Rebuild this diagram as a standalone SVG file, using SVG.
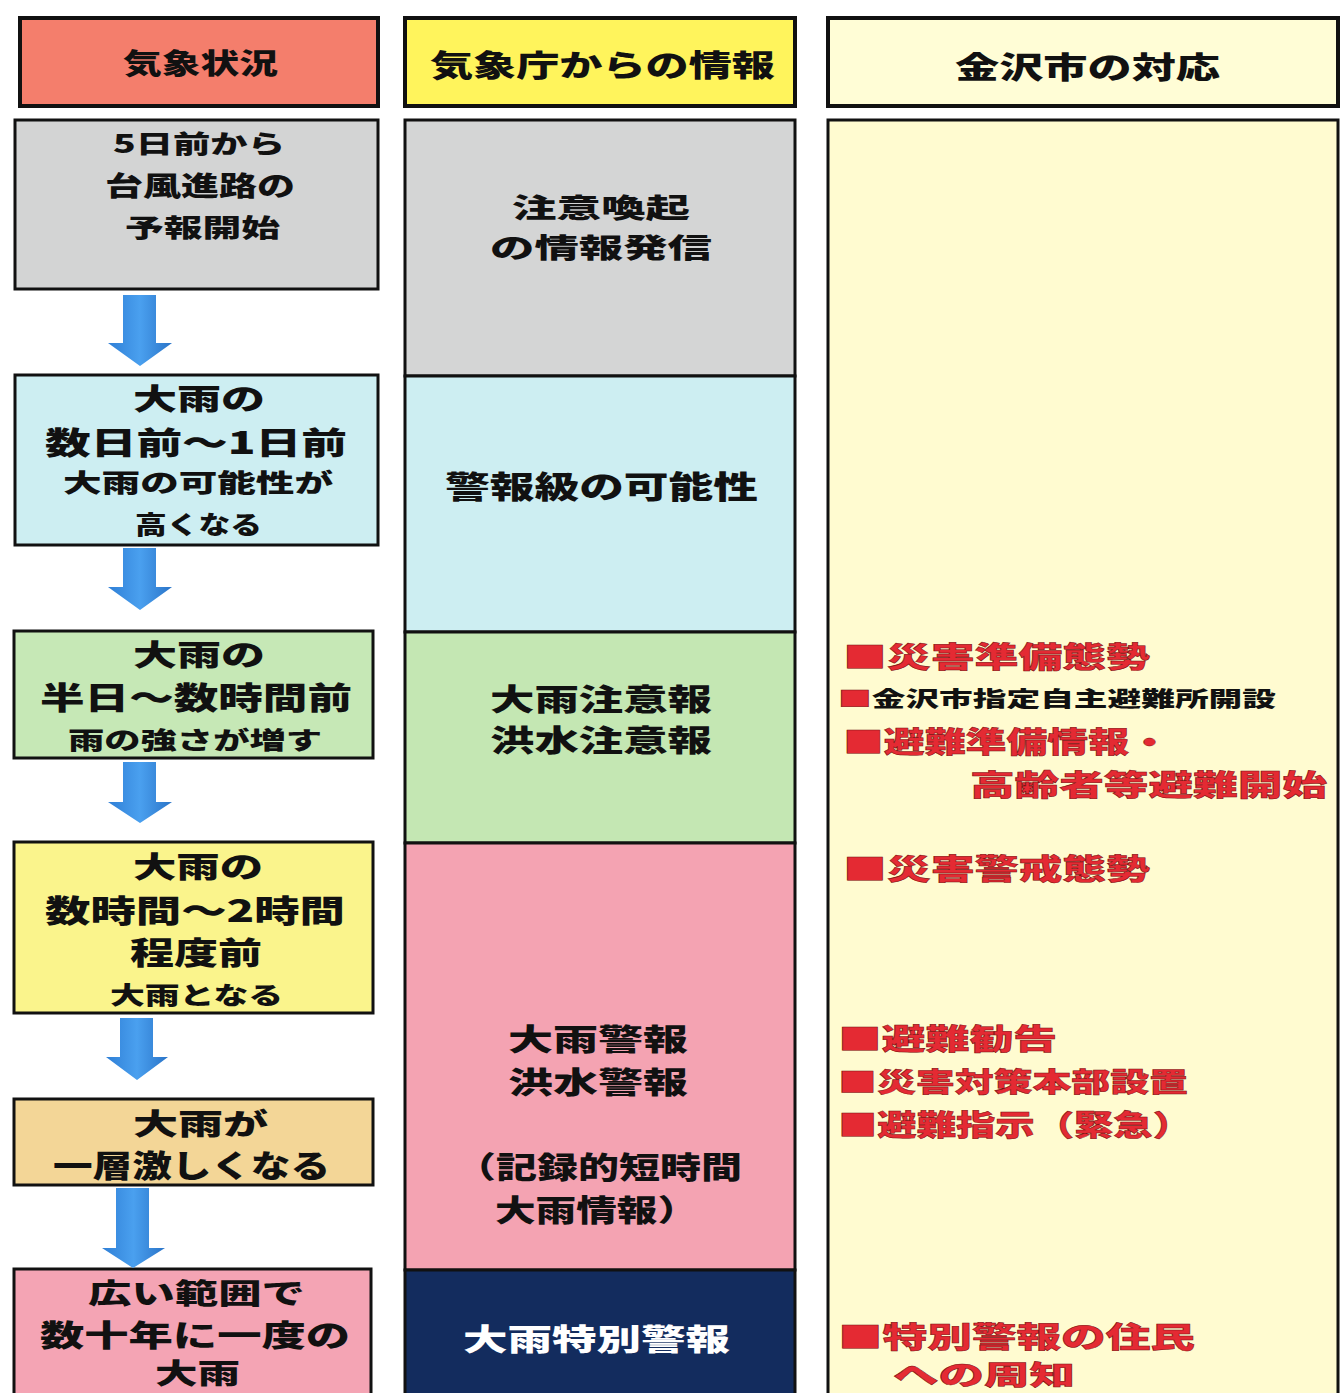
<svg xmlns="http://www.w3.org/2000/svg" width="1341" height="1393" viewBox="0 0 1341 1393">
<style>
.t{font-family:"Noto Sans CJK JP","Noto Sans CJK SC",sans-serif;font-weight:900;fill:#111;dominant-baseline:central}
.w{fill:#fff}
.r{fill:#e42a33;stroke:#7a1010;stroke-width:0.5}
.box{stroke:#111;stroke-width:3}
.hdr{stroke:#111;stroke-width:4}
.arrow{fill:url(#ag)}
</style>
<defs>
<linearGradient id="ag" x1="0" y1="0" x2="1" y2="0">
<stop offset="0" stop-color="#2f7fd6"/>
<stop offset="0.5" stop-color="#4aa0ef"/>
<stop offset="1" stop-color="#2a74c8"/>
</linearGradient>
</defs>
<rect width="1341" height="1393" fill="#fff"/>

<g id="header-kisho">
<rect class="hdr" x="20" y="18" width="358" height="88" fill="#f47e6c"/>
<text class="t" x="123" y="62" font-size="28" textLength="155" lengthAdjust="spacingAndGlyphs">気象状況</text>
</g>
<g id="header-jma">
<rect class="hdr" x="405" y="18" width="390" height="88" fill="#fff45c"/>
<text class="t" x="430" y="63" font-size="30" textLength="345" lengthAdjust="spacingAndGlyphs">気象庁からの情報</text>
</g>
<g id="header-city">
<rect class="hdr" x="828" y="18" width="510" height="88" fill="#fffdd6"/>
<text class="t" x="955" y="65" font-size="30" textLength="265" lengthAdjust="spacingAndGlyphs">金沢市の対応</text>
</g>

<g id="s1">
<rect class="box" x="15" y="120" width="363" height="169" fill="#d3d4d4"/>
<text class="t" x="113" y="142" font-size="25" textLength="172" lengthAdjust="spacingAndGlyphs">5日前から</text>
<text class="t" x="105" y="184" font-size="27" textLength="190" lengthAdjust="spacingAndGlyphs">台風進路の</text>
<text class="t" x="125" y="226" font-size="25" textLength="155" lengthAdjust="spacingAndGlyphs">予報開始</text>
</g>
<g id="s2">
<rect class="box" x="15" y="375" width="363" height="170" fill="#cdeef2"/>
<text class="t" x="133" y="397" font-size="29" textLength="132" lengthAdjust="spacingAndGlyphs">大雨の</text>
<text class="t" x="45" y="440" font-size="31" textLength="302" lengthAdjust="spacingAndGlyphs">数日前～1日前</text>
<text class="t" x="63" y="481" font-size="25" textLength="270" lengthAdjust="spacingAndGlyphs">大雨の可能性が</text>
<text class="t" x="135" y="523" font-size="25" textLength="127" lengthAdjust="spacingAndGlyphs">高くなる</text>
</g>
<g id="s3">
<rect class="box" x="14" y="631" width="359" height="127" fill="#c6e8b6"/>
<text class="t" x="133" y="653" font-size="29" textLength="132" lengthAdjust="spacingAndGlyphs">大雨の</text>
<text class="t" x="40" y="695" font-size="31" textLength="312" lengthAdjust="spacingAndGlyphs">半日～数時間前</text>
<text class="t" x="68" y="738" font-size="24" textLength="254" lengthAdjust="spacingAndGlyphs">雨の強さが増す</text>
</g>
<g id="s4">
<rect class="box" x="14" y="842" width="359" height="171" fill="#faf48c"/>
<text class="t" x="133" y="865" font-size="29" textLength="130" lengthAdjust="spacingAndGlyphs">大雨の</text>
<text class="t" x="45" y="908" font-size="31" textLength="300" lengthAdjust="spacingAndGlyphs">数時間～2時間</text>
<text class="t" x="130" y="950" font-size="31" textLength="132" lengthAdjust="spacingAndGlyphs">程度前</text>
<text class="t" x="110" y="993" font-size="24" textLength="173" lengthAdjust="spacingAndGlyphs">大雨となる</text>
</g>
<g id="s5">
<rect class="box" x="14" y="1099" width="359" height="86" fill="#f3d697"/>
<text class="t" x="133" y="1122" font-size="29" textLength="135" lengthAdjust="spacingAndGlyphs">大雨が</text>
<text class="t" x="53" y="1163" font-size="31" textLength="277" lengthAdjust="spacingAndGlyphs">一層激しくなる</text>
</g>
<g id="s6">
<rect class="box" x="14" y="1269" width="357" height="140" fill="#f4a4b4"/>
<text class="t" x="88" y="1292" font-size="28" textLength="217" lengthAdjust="spacingAndGlyphs">広い範囲で</text>
<text class="t" x="40" y="1333" font-size="30" textLength="310" lengthAdjust="spacingAndGlyphs">数十年に一度の</text>
<text class="t" x="155" y="1372" font-size="28" textLength="85" lengthAdjust="spacingAndGlyphs">大雨</text>
</g>

<g id="i1">
<rect class="box" x="405" y="120" width="390" height="256" fill="#d4d5d5"/>
<text class="t" x="512" y="206" font-size="27" textLength="178" lengthAdjust="spacingAndGlyphs">注意喚起</text>
<text class="t" x="490" y="246" font-size="27" textLength="222" lengthAdjust="spacingAndGlyphs">の情報発信</text>
</g>
<g id="i2">
<rect class="box" x="405" y="376" width="390" height="256" fill="#cdeef2"/>
<text class="t" x="445" y="484" font-size="31" textLength="313" lengthAdjust="spacingAndGlyphs">警報級の可能性</text>
</g>
<g id="i3">
<rect class="box" x="405" y="632" width="390" height="211" fill="#c4e7b3"/>
<text class="t" x="490" y="697" font-size="30" textLength="222" lengthAdjust="spacingAndGlyphs">大雨注意報</text>
<text class="t" x="490" y="738" font-size="30" textLength="222" lengthAdjust="spacingAndGlyphs">洪水注意報</text>
</g>
<g id="i4">
<rect class="box" x="405" y="843" width="390" height="427" fill="#f4a3b2"/>
<text class="t" x="508" y="1037" font-size="30" textLength="180" lengthAdjust="spacingAndGlyphs">大雨警報</text>
<text class="t" x="508" y="1080" font-size="30" textLength="180" lengthAdjust="spacingAndGlyphs">洪水警報</text>
<text class="t" x="455" y="1165" font-size="30" textLength="287" lengthAdjust="spacingAndGlyphs">（記録的短時間</text>
<text class="t" x="495" y="1208" font-size="30" textLength="203" lengthAdjust="spacingAndGlyphs">大雨情報）</text>
</g>
<g id="i5">
<rect class="box" x="405" y="1270" width="390" height="140" fill="#132c5e"/>
<text class="t w" x="463" y="1337" font-size="30" textLength="267" lengthAdjust="spacingAndGlyphs">大雨特別警報</text>
</g>

<g id="city">
<rect class="box" x="828" y="120" width="510" height="1290" fill="#fffbd0"/>
<text class="t r" x="843" y="655" font-size="29" textLength="307" lengthAdjust="spacingAndGlyphs">■災害準備態勢</text>
<text class="t" x="838" y="697" font-size="21" textLength="438" lengthAdjust="spacingAndGlyphs"><tspan class="r">■</tspan>金沢市指定自主避難所開設</text>
<text class="t r" x="843" y="740" font-size="29" textLength="327" lengthAdjust="spacingAndGlyphs">■避難準備情報・</text>
<text class="t r" x="970" y="783" font-size="29" textLength="357" lengthAdjust="spacingAndGlyphs">高齢者等避難開始</text>
<text class="t r" x="843" y="867" font-size="29" textLength="307" lengthAdjust="spacingAndGlyphs">■災害警戒態勢</text>
<text class="t r" x="838" y="1037" font-size="29" textLength="219" lengthAdjust="spacingAndGlyphs">■避難勧告</text>
<text class="t r" x="838" y="1080" font-size="27" textLength="350" lengthAdjust="spacingAndGlyphs">■災害対策本部設置</text>
<text class="t r" x="838" y="1123" font-size="29" textLength="354" lengthAdjust="spacingAndGlyphs">■避難指示（緊急）</text>
<text class="t r" x="838" y="1335" font-size="29" textLength="357" lengthAdjust="spacingAndGlyphs">■特別警報の住民</text>
<text class="t r" x="893" y="1373" font-size="27" textLength="182" lengthAdjust="spacingAndGlyphs">への周知</text>
</g>

<g id="connectors">
<path class="arrow" d="M123,295 H156 V343 H172 L140,366 L108,343 H123 Z"/>
<path class="arrow" d="M123,548 H156 V587 H172 L140,610 L108,587 H123 Z"/>
<path class="arrow" d="M123,762 H156 V802 H172 L140,823 L108,802 H123 Z"/>
<path class="arrow" d="M120,1018 H153 V1057 H168 L137,1080 L106,1057 H120 Z"/>
<path class="arrow" d="M116,1188 H149 V1248 H165 L133,1268 L102,1248 H116 Z"/>
</g>
</svg>
